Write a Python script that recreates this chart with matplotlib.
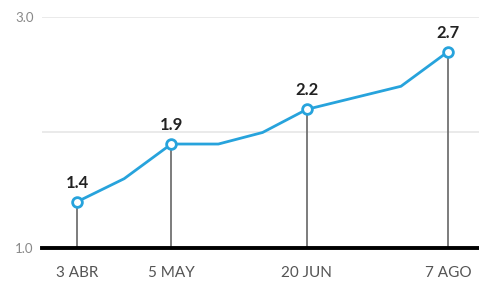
import matplotlib
matplotlib.use("Agg")
import matplotlib.pyplot as plt

# days since 3 April
days = [0, 16, 32, 48, 63, 78, 110, 126]
values = [1.4, 1.6, 1.9, 1.9, 2.0, 2.2, 2.4, 2.7]
key_days = [0, 32, 78, 126]
key_values = [1.4, 1.9, 2.2, 2.7]
key_labels = ["1.4", "1.9", "2.2", "2.7"]
tick_labels = ["3 ABR", "5 MAY", "20 JUN", "7 AGO"]
y_ticks = [1.0, 3.0]
y_tick_labels = ["1.0", "3.0"]

plt.rcParams['font.family'] = ['Lato', 'DejaVu Sans']
fig = plt.figure(figsize=(4.79, 2.88), dpi=100)
ax = fig.add_axes([0.0877, 0.139, 0.9123, 0.802])
ax.set_xlim(-11.9, 136.5)
ax.set_ylim(1.0, 3.0)

for y in [2.0, 3.0]:
    ax.axhline(y, color="#e6e6e6", lw=1.2, zorder=0)
ax.axhline(1.0, color="black", lw=2.8, zorder=3, clip_on=False)

ax.vlines(key_days, 1.0, key_values, color="#666666", lw=1.2, zorder=1)
ax.plot(days, values, color="#27a3dc", lw=2, zorder=2)
ax.plot(key_days, key_values, 'o', ms=7, mfc="white", mec="#27a3dc", mew=2, zorder=4)
for d, v, t in zip(key_days, key_values, key_labels):
    ax.annotate(t, (d, v), xytext=(0, 8), textcoords="offset points",
                ha="center", va="bottom", fontsize=12, fontweight="bold", color="#222222")

ax.set_xticks(key_days)
ax.set_xticklabels(tick_labels, fontsize=11, color="#555555")
ax.set_yticks(y_ticks)
ax.set_yticklabels(y_tick_labels, fontsize=9.5, color="#888888")
ax.tick_params(axis="x", length=0, pad=13)
ax.tick_params(axis="y", length=0, pad=6)
for s in ax.spines.values():
    s.set_visible(False)

fig.savefig("out.png", dpi=100)
